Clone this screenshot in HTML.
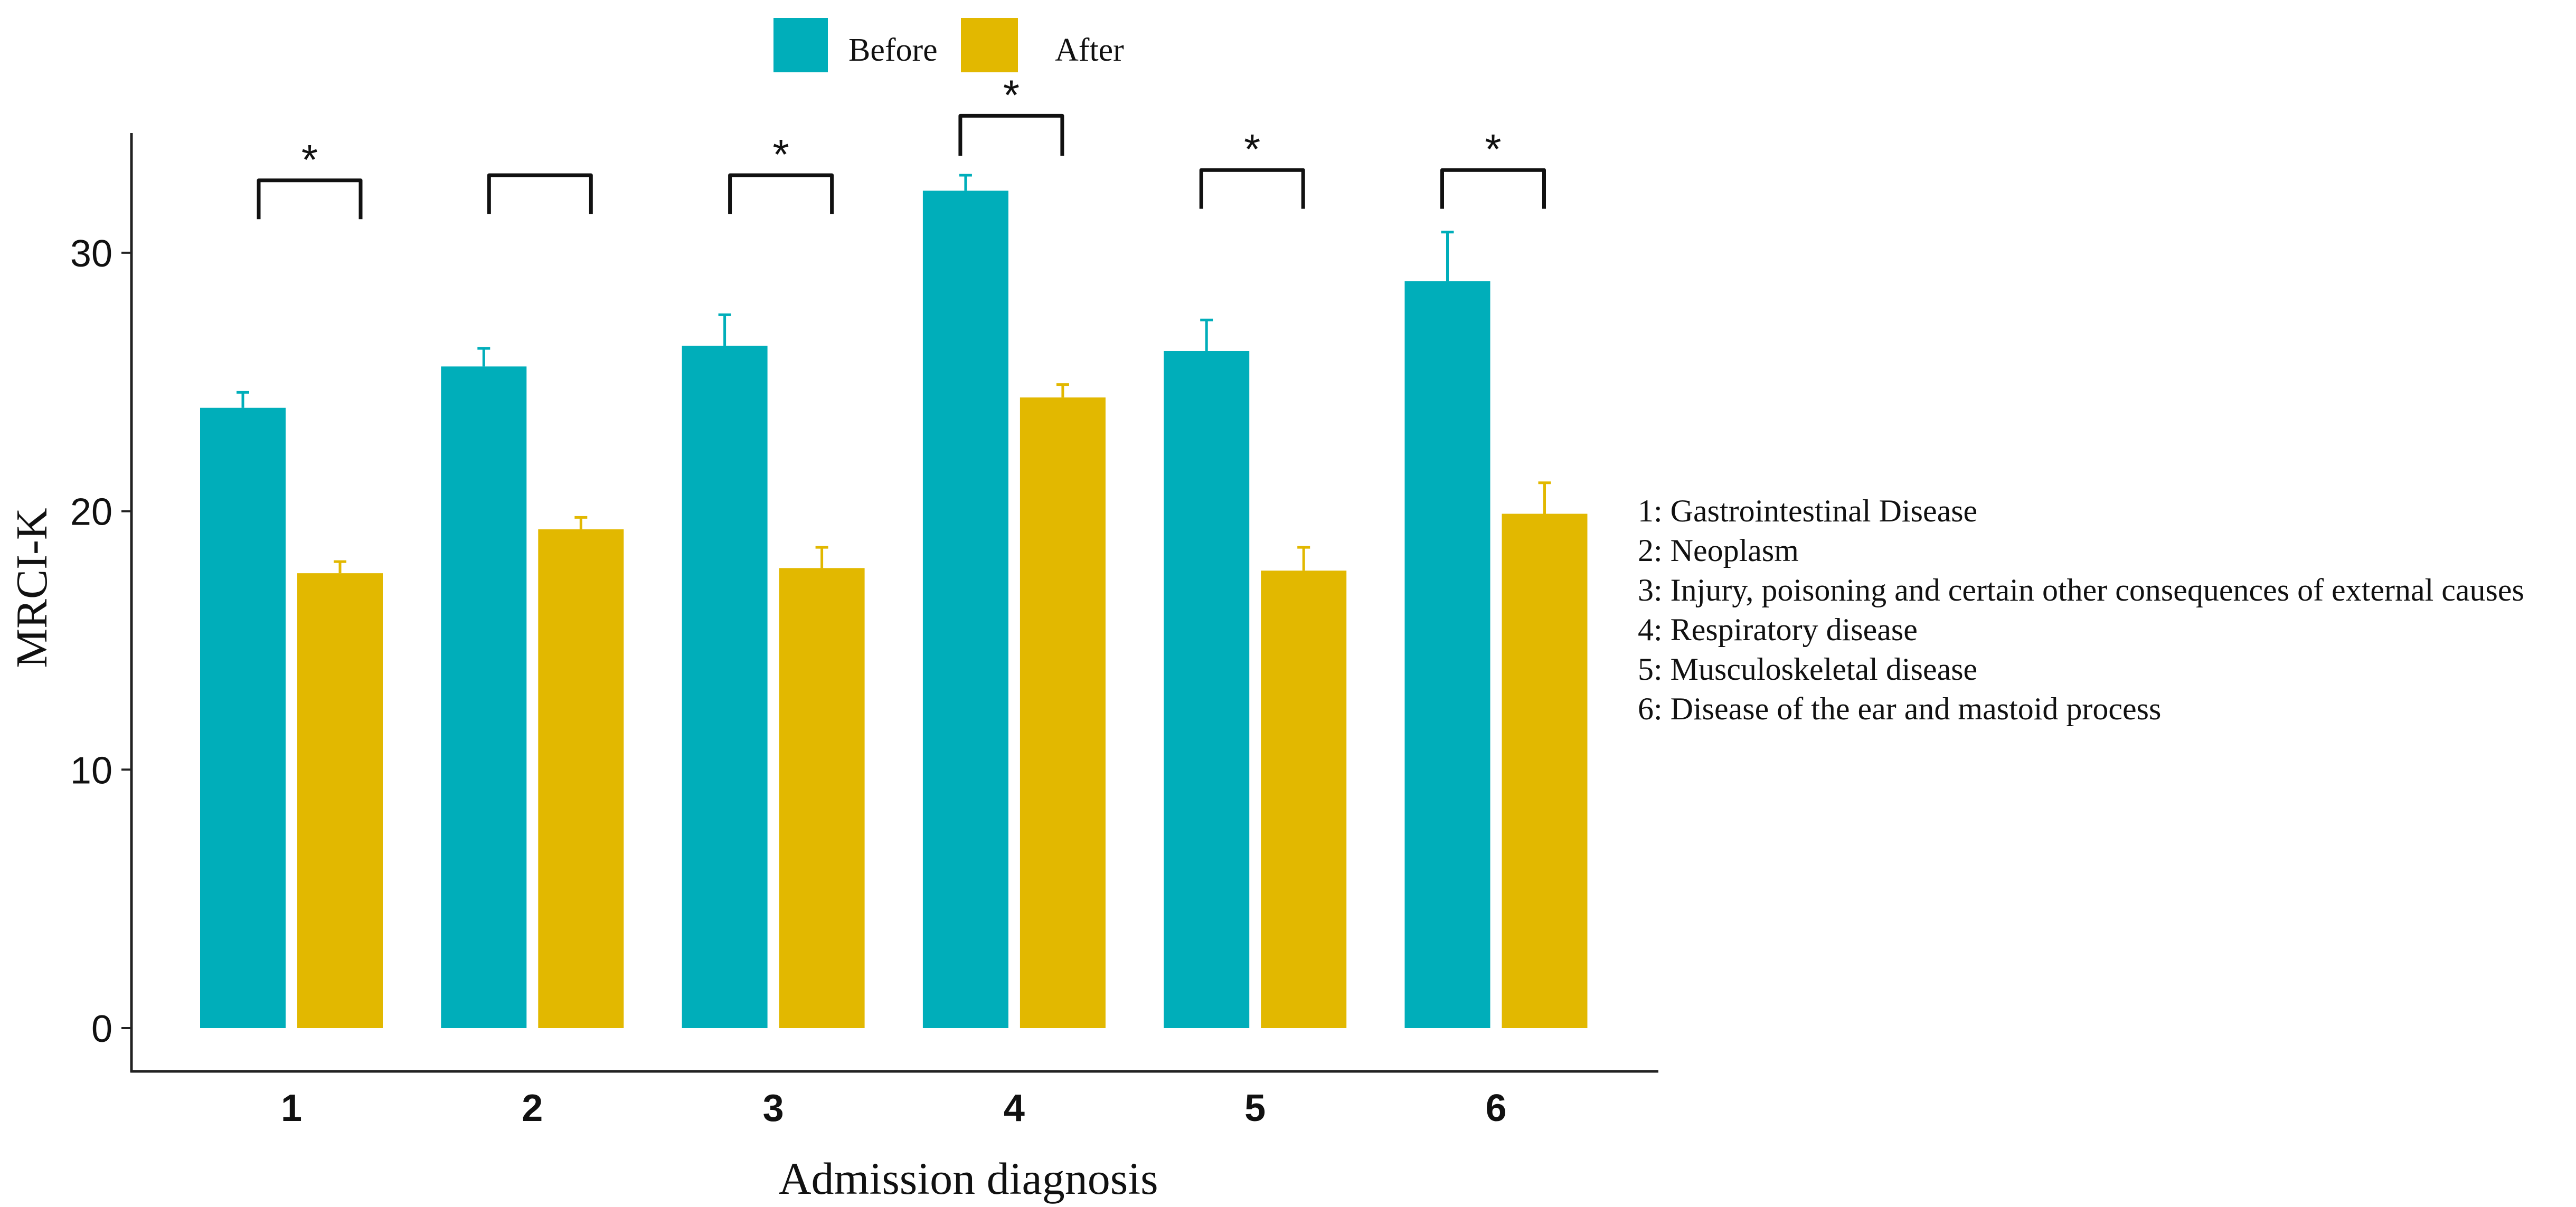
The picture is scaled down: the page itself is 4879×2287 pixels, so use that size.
<!DOCTYPE html>
<html><head><meta charset="utf-8"><style>
html,body{margin:0;padding:0;background:#fff;}
svg{display:block;}
</style></head><body>
<svg id="chart" width="4879" height="2287" viewBox="0 0 4879 2287" xmlns="http://www.w3.org/2000/svg">
<rect width="4879" height="2287" fill="#fff"/>
<g id="plot"></g>
</svg>
<script>
const categories = ["1","2","3","4","5","6"];
const beforeValues = [24.0, 25.6, 26.4, 32.4, 26.2, 28.9];
const beforeErrors = [24.6, 26.3, 27.6, 33.0, 27.4, 30.8];
const afterValues = [17.6, 19.3, 17.8, 24.4, 17.7, 19.9];
const afterErrors = [18.05, 19.76, 18.6, 24.9, 18.6, 21.1];
const yTicks = [0, 10, 20, 30];
const bracketTops = [32.8, 33.0, 33.0, 35.3, 33.2, 33.2];
const bracketBottoms = [31.3, 31.5, 31.5, 33.75, 31.7, 31.7];
const significant = [true, false, true, true, true, true];
const notes = ["1: Gastrointestinal Disease","2: Neoplasm","3: Injury, poisoning and certain other consequences of external causes","4: Respiratory disease","5: Musculoskeletal disease","6: Disease of the ear and mastoid process"];

const NS = "http://www.w3.org/2000/svg";
const g = document.getElementById('plot');
const y0 = 1948, pxPerUnit = 48.97;
function yScale(v){ return y0 - v * pxPerUnit; }
function xCenter(i){ return 552 + i * 456.3; }
const barW = 162, gap = 22;
const TEAL = "#00AEBA", GOLD = "#E2B800";
function el(tag, attrs){ const e = document.createElementNS(NS, tag); for (const k in attrs) e.setAttribute(k, attrs[k]); g.appendChild(e); return e; }

let a = el('line',{x1:249,y1:252,x2:249,y2:2032,stroke:'#222','stroke-width':5});


a = el('line',{x1:247,y1:2030,x2:3141,y2:2030,stroke:'#222','stroke-width':5});



yTicks.forEach(t => {
  const y = yScale(t);
  const tk = el('line',{x1:230,y1:y,x2:249,y2:y,stroke:'#222','stroke-width':4});
  
  
  const tx = el('text',{x:213,y:y+26,'text-anchor':'end','font-family':'Liberation Sans, sans-serif','font-size':72,fill:'#111'});
  tx.textContent = t;
  
  
});

categories.forEach((c, i) => {
  const cx = xCenter(i);
  const bx = cx - gap/2 - barW, ax = cx + gap/2;
  const b = el('rect',{x:bx,y:yScale(beforeValues[i]),width:barW,height:yScale(0)-yScale(beforeValues[i]),fill:TEAL});
  
  
  const af = el('rect',{x:ax,y:yScale(afterValues[i]),width:barW,height:yScale(0)-yScale(afterValues[i]),fill:GOLD});
  
  
  [[bx + barW/2, beforeValues[i], beforeErrors[i], TEAL, 'before'], [ax + barW/2, afterValues[i], afterErrors[i], GOLD, 'after']].forEach(e => {
    const l = el('path',{d:`M${e[0]} ${yScale(e[1])} V${yScale(e[2])} M${e[0]-12} ${yScale(e[2])} H${e[0]+12}`,stroke:e[3],'stroke-width':5,fill:'none'});
    
    
  });
  const lx = bx + barW/2 + 30 - (i >= 3 ? 40 : 0) - (i==1||i==2 ? 20 : 0);
  const rx = lx + 193;
  const br = el('path',{d:`M${lx} ${yScale(bracketBottoms[i])} V${yScale(bracketTops[i])} H${rx} V${yScale(bracketBottoms[i])}`,stroke:'#111','stroke-width':7,fill:'none','stroke-linejoin':'round'});
  
  
  if (significant[i]) {
    const s = el('text',{x:(lx+rx)/2,y:yScale(bracketTops[i])-12,'text-anchor':'middle','font-family':'Liberation Sans, sans-serif','font-size':80,fill:'#111'});
    s.textContent = '*';
    
    
  }
  const xl = el('text',{x:cx,y:2124,'text-anchor':'middle','font-family':'Liberation Sans, sans-serif','font-weight':'bold','font-size':72,fill:'#111'});
  xl.textContent = c;
  
  
});

let t = el('text',{x:1834,y:2262,'text-anchor':'middle','font-family':'Liberation Serif, serif','font-size':86,fill:'#111'});
t.textContent = 'Admission diagnosis';


t = el('text',{x:0,y:0,'text-anchor':'middle','font-family':'Liberation Serif, serif','font-size':84,fill:'#111',transform:'translate(88,1114) rotate(-90)'});
t.textContent = 'MRCI-K';



let r = el('rect',{x:1465,y:34,width:103,height:103,fill:TEAL});


t = el('text',{x:1607,y:115,'font-family':'Liberation Serif, serif','font-size':62,fill:'#111'});
t.textContent = 'Before';


r = el('rect',{x:1820,y:34,width:108,height:103,fill:GOLD});


t = el('text',{x:1998,y:115,'font-family':'Liberation Serif, serif','font-size':62,fill:'#111'});
t.textContent = 'After';



notes.forEach((n, i) => {
  const nt = el('text',{x:3102,y:988 + i*75,'font-family':'Liberation Serif, serif','font-size':60,fill:'#111'});
  nt.textContent = n;
  
  
});
</script>
</body></html>
